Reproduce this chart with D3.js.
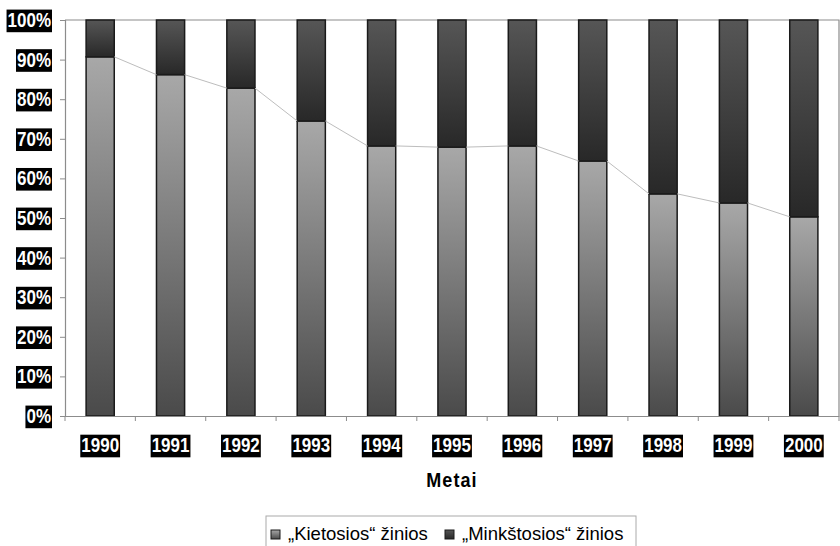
<!DOCTYPE html>
<html>
<head>
<meta charset="utf-8">
<script src="https://cdn.jsdelivr.net/npm/d3@7"></script>
<style>
  body { margin: 0; background: #fff; }
  text { font-family: "Liberation Sans", Arial, sans-serif; }
</style>
</head>
<body>
<svg id="chart" width="840" height="546"></svg>
<script>
// data
const years = ["1990","1991","1992","1993","1994","1995","1996","1997","1998","1999","2000"];
const hard = [90.7, 86.2, 82.8, 74.5, 68.2, 67.9, 68.2, 64.4, 56.1, 53.8, 50.3];
const soft = hard.map(v => 100 - v);
const yTicks = [0, 10, 20, 30, 40, 50, 60, 70, 80, 90, 100];
const seriesNames = ["\u201EKietosios\u201C \u017Einios", "\u201EMink\u0161tosios\u201C \u017Einios"];

const svg = d3.select("#chart");
const m = {left: 65, right: 839, top: 20, bottom: 416};
const SX = 0.85; // labels in the original are horizontally squeezed

const x = d3.scaleBand().domain(years).range([m.left, m.right]).paddingInner(0.6).paddingOuter(0.3);
const xb = d3.scaleBand().domain(years).range([m.left, m.right]);
const y = d3.scaleLinear().domain([0, 100]).range([m.bottom, m.top]);

// gradients
const defs = svg.append("defs");
function grad(id, c1, c2) {
  const g = defs.append("linearGradient").attr("id", id)
    .attr("x1", 0).attr("y1", 0).attr("x2", 0).attr("y2", 1);
  g.append("stop").attr("offset", "0%").attr("stop-color", c1);
  g.append("stop").attr("offset", "100%").attr("stop-color", c2);
}
grad("gLight", "#a8a8a8", "#4a4a4a");
grad("gDark", "#565656", "#282828");

// plot frame (top and right)
svg.append("path")
  .attr("d", `M${m.left},${m.top}H${m.right}V${m.bottom}`)
  .attr("fill", "none").attr("stroke", "#8c8c8c").attr("stroke-width", 1.2);

// bars
const g = svg.append("g");
g.selectAll("rect.hard").data(years).join("rect")
  .attr("x", d => x(d)).attr("width", x.bandwidth())
  .attr("y", (d, i) => y(hard[i])).attr("height", (d, i) => y(0) - y(hard[i]))
  .attr("fill", "url(#gLight)").attr("stroke", "#1a1a1a").attr("stroke-width", 1.5);
g.selectAll("rect.soft").data(years).join("rect")
  .attr("x", d => x(d)).attr("width", x.bandwidth())
  .attr("y", y(100)).attr("height", (d, i) => y(hard[i]) - y(100))
  .attr("fill", "url(#gDark)").attr("stroke", "#1a1a1a").attr("stroke-width", 1.5);

// series connector lines
const segs = d3.range(years.length - 1).map(i => [
  [x(years[i]) + x.bandwidth(), y(hard[i])],
  [x(years[i + 1]), y(hard[i + 1])]
]);
g.selectAll("line.conn").data(segs).join("line")
  .attr("x1", d => d[0][0]).attr("y1", d => d[0][1])
  .attr("x2", d => d[1][0]).attr("y2", d => d[1][1])
  .attr("stroke", "#bdbdbd").attr("stroke-width", 1);

// y axis
const ya = svg.append("g").attr("transform", `translate(${m.left},0)`)
  .call(d3.axisLeft(y).tickValues(yTicks).tickSize(5).tickPadding(9).tickFormat(d => d + "%"));
ya.select(".domain").attr("stroke", "#8c8c8c").attr("stroke-width", 1.2);
ya.selectAll(".tick line").attr("stroke", "#8c8c8c");
ya.selectAll(".tick text").attr("fill", "#fff").attr("font-size", 20).attr("font-weight", "bold")
  .attr("font-family", "Liberation Sans, Arial, sans-serif")
  .style("transform-box", "fill-box").style("transform-origin", "100% 50%")
  .style("transform", `scaleX(${SX})`);

// x axis
const xa = svg.append("g").attr("transform", `translate(0,${m.bottom})`)
  .call(d3.axisBottom(xb).tickSize(0));
xa.select(".domain").attr("stroke", "#8c8c8c").attr("stroke-width", 1.2);
xa.selectAll(".tick text").attr("fill", "#fff").attr("font-size", 20).attr("font-weight", "bold")
  .attr("font-family", "Liberation Sans, Arial, sans-serif")
  .attr("y", 36).attr("dy", 0)
  .style("transform-box", "fill-box").style("transform-origin", "50% 50%")
  .style("transform", `scaleX(${SX})`);
// tick marks at band edges
xa.selectAll("line.edge").data(years.concat(["end"])).join("line")
  .attr("x1", (d, i) => i < years.length ? xb(d) : m.right)
  .attr("x2", (d, i) => i < years.length ? xb(d) : m.right)
  .attr("y1", 0).attr("y2", 5).attr("stroke", "#8c8c8c");

// black boxes behind tick labels
ya.selectAll(".tick text").each(function() {
  const b = this.getBBox();
  const w = b.width * SX;
  d3.select(this.parentNode).insert("rect", "text")
    .attr("x", b.x + b.width - w - 1).attr("y", b.y + 1).attr("width", w + 2).attr("height", b.height)
    .attr("fill", "#000");
});
xa.selectAll(".tick text").each(function() {
  const b = this.getBBox();
  const w = b.width * SX;
  d3.select(this.parentNode).insert("rect", "text")
    .attr("x", b.x + (b.width - w) / 2 - 1).attr("y", b.y + 1).attr("width", w + 2).attr("height", b.height)
    .attr("fill", "#000");
});

// axis title
svg.append("text").attr("x", (m.left + m.right) / 2).attr("y", 487)
  .attr("text-anchor", "middle").attr("font-size", 20).attr("font-weight", "bold")
  .attr("letter-spacing", 1.2)
  .style("transform-box", "fill-box").style("transform-origin", "50% 50%")
  .style("transform", "scaleX(0.9)")
  .text("Metai");

// legend
const lg = svg.append("g");
lg.append("rect").attr("x", 266).attr("y", 516).attr("width", 370).attr("height", 40)
  .attr("fill", "#fff").attr("stroke", "#aaa").attr("stroke-width", 1);
const lx = [271, 445];
seriesNames.forEach((n, i) => {
  lg.append("rect").attr("x", lx[i]).attr("y", 530).attr("width", 9).attr("height", 9)
    .attr("fill", i === 0 ? "url(#gLight)" : "url(#gDark)").attr("stroke", "#1a1a1a");
  lg.append("text").attr("x", lx[i] + 17).attr("y", 540).attr("font-size", 18.5)
    .attr("fill", "#000").text(n);
});
</script>
</body>
</html>
